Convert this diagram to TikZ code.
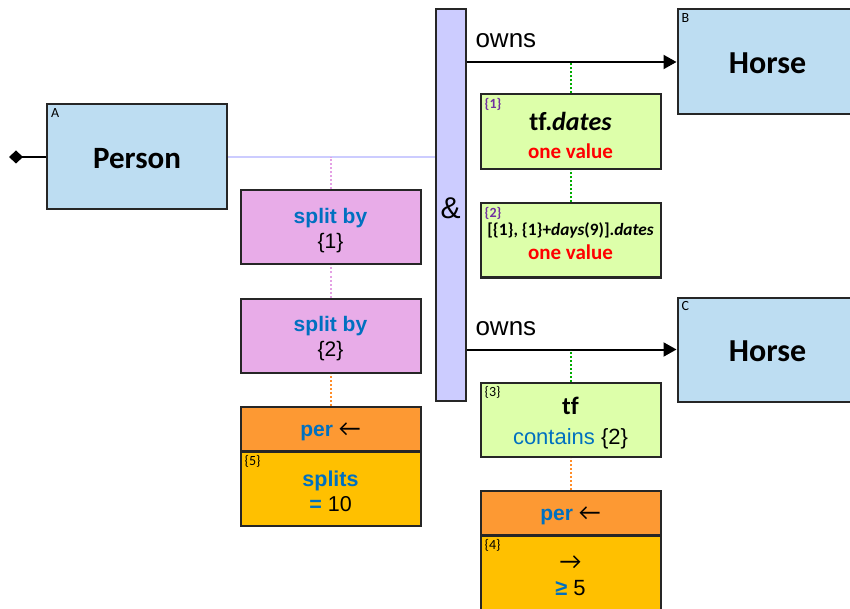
\documentclass[tikz,border=0pt]{standalone}
\usepackage{fontspec}
\setmainfont{Liberation Sans}
\newfontfamily\calibri[Ligatures=NoCommon]{Carlito}
\usetikzlibrary{arrows.meta}
\definecolor{boxblue}{RGB}{189,221,242}
\definecolor{splitpink}{RGB}{232,172,232}
\definecolor{barlav}{RGB}{204,204,255}
\definecolor{tfgreen}{RGB}{221,255,170}
\definecolor{perorange}{RGB}{253,153,51}
\definecolor{valgold}{RGB}{255,192,0}
\definecolor{txtblue}{RGB}{0,112,192}
\definecolor{idpurple}{RGB}{112,48,160}
\definecolor{dotgreen}{RGB}{0,170,0}
\definecolor{dotorange}{RGB}{255,140,40}
\definecolor{dotpink}{RGB}{228,160,228}
\newcommand{\larr}{{\calibri\fontsize{24}{25}\selectfont ←}}
\newcommand{\rarr}{{\calibri\fontsize{24}{26}\selectfont →}}
\begin{document}
\begin{tikzpicture}[x=1pt,y=-1pt,
  box/.style={draw=black!85, line width=2pt, minimum width=180pt, inner sep=0pt},
  txt/.style={inner sep=0pt, align=center},
  corner/.style={anchor=north west, inner xsep=5pt, inner ysep=4.5pt, font=\calibri\fontsize{14}{16}\selectfont},
  dotline/.style={line width=2pt, dash pattern=on 2pt off 2pt},
  ownsarrow/.style={line width=2pt, -{Triangle[length=13pt,width=14pt]}},
  big/.style={font=\calibri\bfseries\fontsize{31}{36}\selectfont},
  bighorse/.style={font=\calibri\bfseries\fontsize{32}{36}\selectfont},
  arial21/.style={font=\fontsize{21}{25}\selectfont},
]
\useasboundingbox (0,0) rectangle (850,609);
\clip (0,0) rectangle (850,609);

% entity boxes
\node[box, fill=boxblue, minimum height=105pt,
      label={[corner]north west:A}] (person) at (137,157) {};
\node[txt, big] (persont) at ([yshift=-2pt]person.center) {Person};
\node[box, fill=boxblue, minimum height=105pt,
      label={[corner]north west:B}] (horseB) at (767.5,62) {};
\node[txt, bighorse] (horseBt) at ([yshift=-1.5pt]horseB.center) {Horse};
\node[box, fill=boxblue, minimum height=104pt,
      label={[corner]north west:C}] (horseC) at (767.5,349.5) {};
\node[txt, bighorse] (horseCt) at ([yshift=-1.5pt]horseC.center) {Horse};

% & bar
\node[box, fill=barlav, minimum width=30pt, minimum height=391pt] (bar) at (450.5,205) {};
\node[txt, font=\fontsize{30}{36}\selectfont] (amp) at ([yshift=-3pt]bar.center) {\&};

% split boxes
\node[box, fill=splitpink, minimum height=74pt] (split1) at (330.5,227.5) {};
\node[txt, arial21] (split1t) at ([yshift=-3pt]split1.center)
  {\textcolor{txtblue}{\bfseries split by}\\\{1\}};
\node[box, fill=splitpink, minimum height=74pt] (split2) at (330.5,335.5) {};
\node[txt, arial21] (split2t) at ([yshift=-3pt]split2.center)
  {\textcolor{txtblue}{\bfseries split by}\\\{2\}};

% per / splits
\node[box, fill=perorange, minimum height=44pt] (per5) at (330.5,428.5) {};
\node[txt, arial21] (per5t) at ([yshift=-3pt]per5.center)
  {\textcolor{txtblue}{\bfseries per} \larr};
\node[box, fill=valgold, minimum height=74pt,
      label={[corner]north west:\{5\}}] (val5) at (330.5,488.5) {};
\node[txt, font=\fontsize{21.5}{25}\selectfont] (val5t) at ([yshift=-2.5pt]val5.center)
  {\textcolor{txtblue}{\bfseries splits}\\\textcolor{txtblue}{\bfseries =} 10};

% tf boxes
\node[box, fill=tfgreen, minimum height=75pt,
      label={[corner, font=\calibri\bfseries\fontsize{14}{16}\selectfont, text=idpurple]north west:\{1\}}]
  (tf1) at (570.5,132) {};
\node[txt, font=\calibri\bfseries\fontsize{21}{28}\selectfont] (tf1t) at ([yshift=-3pt]tf1.center)
  {{\fontsize{26}{28}\selectfont tf.\textit{dates}}\\\textcolor{red}{one value}};
\node[box, fill=tfgreen, minimum height=74pt,
      label={[corner, font=\calibri\bfseries\fontsize{14}{16}\selectfont, text=idpurple]north west:\{2\}}]
  (tf2) at (570.5,240.5) {};
\node[txt, font=\calibri\bfseries\fontsize{21}{24}\selectfont] (tf2t) at ([yshift=-1pt]tf2.center)
  {{\fontsize{17.3}{20}\selectfont [\{1\}, \{1\}+\textit{days}(9)].\textit{dates}}\\\textcolor{red}{one value}};
\node[box, fill=tfgreen, minimum height=74pt,
      label={[corner]north west:\{3\}}]
  (tf3) at (570.5,419.5) {};
\node[txt, font=\fontsize{22}{30}\selectfont] (tf3t) at ([yshift=-3.5pt]tf3.center)
  {{\calibri\bfseries\fontsize{25}{30}\selectfont tf}\\\textcolor{txtblue}{contains} \{2\}};

% per / count
\node[box, fill=perorange, minimum height=44pt] (per4) at (570.5,512.5) {};
\node[txt, arial21] (per4t) at ([yshift=-3pt]per4.center)
  {\textcolor{txtblue}{\bfseries per} \larr};
\node[box, fill=valgold, minimum height=74pt,
      label={[corner]north west:\{4\}}] (val4) at (570.5,572.5) {};
\node[txt, font=\fontsize{22}{26}\selectfont] (val4t) at ([yshift=-3pt]val4.center)
  {\rarr\\\textcolor{txtblue}{\bfseries ≥} 5};

% connectors
\coordinate (dia) at (9,157);
\draw[line width=2pt, {Diamond[length=14pt,width=13pt]}-] (dia) -- (person.west);
\draw[barlav, line width=2pt] (person.east) -- (bar.west |- person.east);
\draw[dotpink, dotline] (split1.north) -- (split1.north |- person.east);
\draw[dotpink, dotline] (split2.north) -- (split1.south);
\draw[dotorange, dotline] (per5.north) -- (split2.south);

\draw[ownsarrow] (bar.east |- horseB.west) -- (horseB.west);
\draw[ownsarrow] (bar.east |- horseC.west) -- (horseC.west);
\node[anchor=base west, font=\fontsize{26}{30}\selectfont] (owns1) at (472,48) {owns};
\node[anchor=base west, font=\fontsize{26}{30}\selectfont] (owns2) at (472,335) {owns};

\draw[dotgreen, dotline] (tf1.north) -- (tf1.north |- horseB.west);
\draw[dotgreen, dotline] (tf2.north) -- (tf1.south);
\draw[dotgreen, dotline] (tf3.north) -- (tf3.north |- horseC.west);
\draw[dotorange, dotline] (per4.north) -- (tf3.south);
\end{tikzpicture}
\end{document}
